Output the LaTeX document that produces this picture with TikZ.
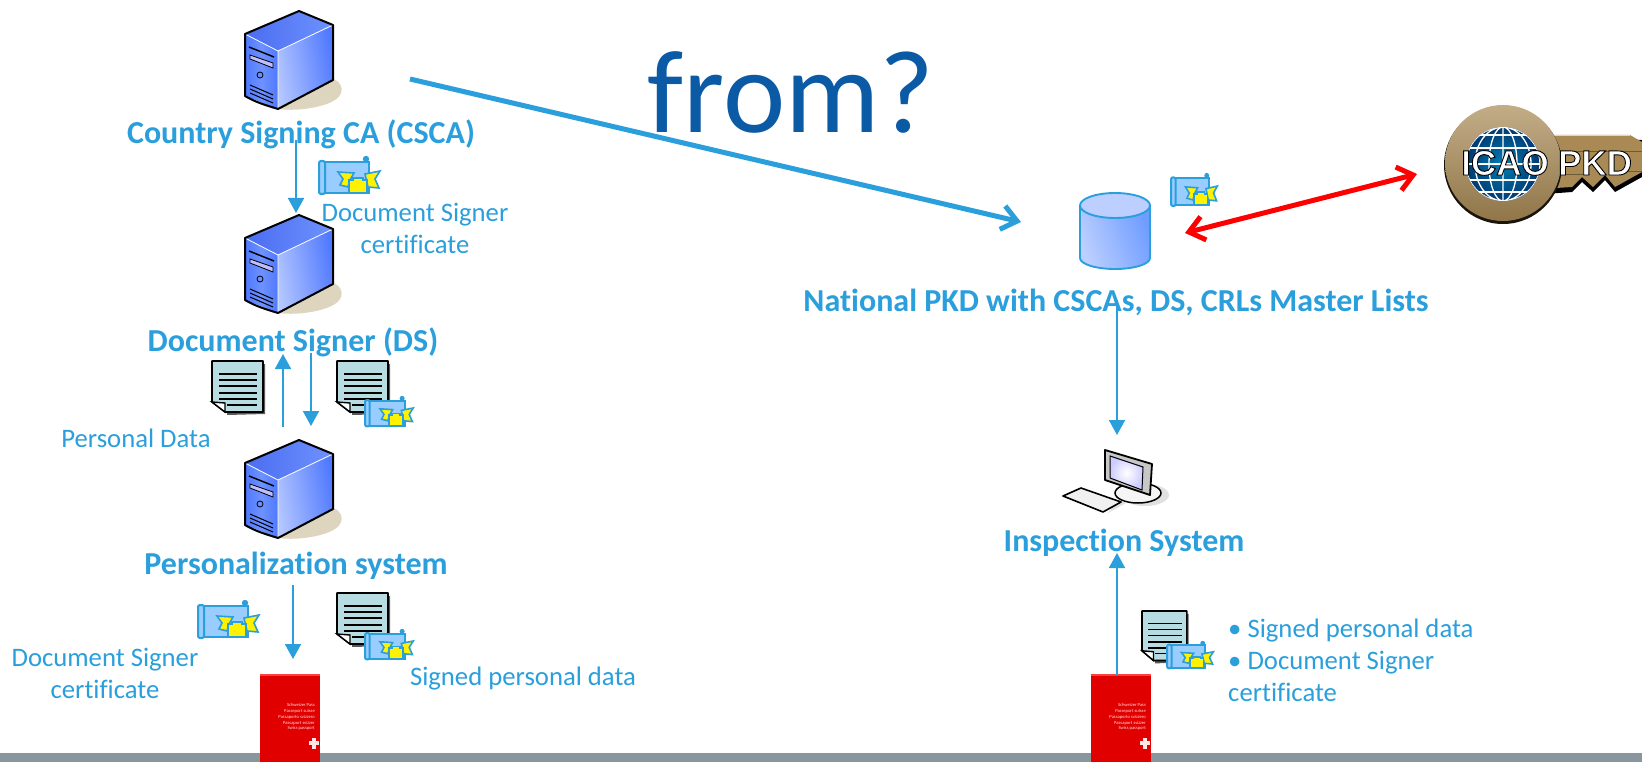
\documentclass[tikz,border=0pt]{standalone}
\usepackage{fontspec}
\setmainfont{Carlito}[Ligatures=NoCommon]
\newfontfamily\keyfont{Liberation Sans}
\usetikzlibrary{arrows.meta,shapes.geometric}
\definecolor{lblue}{HTML}{2A9FDC}
\definecolor{dblue}{HTML}{0B5AA5}
\definecolor{barg}{HTML}{8A969E}
\definecolor{certf}{HTML}{99CCFF}
\definecolor{docf}{HTML}{B7DDE2}
\definecolor{shad}{HTML}{DDD5BE}
\definecolor{keyb}{HTML}{A98A55}
\definecolor{keyd}{HTML}{6E5A35}
\definecolor{pred}{HTML}{E00000}
\definecolor{srvA}{HTML}{B3C6FF}
\definecolor{srvB}{HTML}{4F78FF}
\definecolor{srvC}{HTML}{6E92FF}
\definecolor{srvD}{HTML}{4A6CF0}
\definecolor{cylA}{HTML}{BCCFFF}
\definecolor{cylB}{HTML}{6F9DFF}
\tikzset{
  lbl/.style={text=lblue,inner sep=0pt,anchor=base,font=\fontsize{26.7}{26.7}\selectfont},
  bigl/.style={text=lblue,inner sep=0pt,anchor=base,font=\fontsize{32}{32}\selectfont\bfseries},
  flow/.style={draw=lblue,line width=1.8pt,-{Triangle[length=15pt,width=16pt]}},
  fat/.style={draw=lblue,line width=5pt,-{Straight Barb[length=15pt,width=24pt,line width=5pt]}},
  redl/.style={draw=red,line width=5pt,{Straight Barb[length=15pt,width=24pt,line width=5pt]}-{Straight Barb[length=15pt,width=24pt,line width=5pt]}},
  keytext/.style={text=white,inner sep=0pt,anchor=base,font=\keyfont\fontsize{35}{35}\selectfont\bfseries},
  server/.pic={
    \fill[shad] (310,80) .. controls (340,72) and (345,88) .. (340,95) .. controls (334,106) and (300,112) .. (278,109) -- cycle;
    \shade[left color=srvA,right color=srvB,shading angle=100] (278,51) -- (333,25) -- (333,80) -- (278,109) -- cycle;
    \shade[left color=srvB,right color=srvB,middle color=srvC] (245,34) -- (278,51) -- (278,109) -- (245,96) -- cycle;
    \shade[left color=srvD,right color=srvC] (299,11) -- (245,34) -- (278,51) -- (333,25) -- cycle;
    \draw[white,line width=.8pt] (245,34) -- (278,51) -- (333,25) (278,51) -- (278,109);
    \draw[line width=2pt,line join=round] (299,11) -- (245,34) -- (245,96) .. controls (255,102) and (265,105) .. (278,109) -- (333,80) -- (333,25) -- cycle;
    \draw[line width=1.4pt] (249,47) -- (274,57);
    \draw[line width=.8pt,fill=white!75!blue] (250,55) -- (273,63) -- (273,68) -- (250,59) -- cycle;
    \draw[line width=.8pt] (260,75) circle (3);
    \draw[line width=1pt] (250,85) -- (273,95) (250,89) -- (273,99) (250,93) -- (273,103);
  },
  cert/.pic={
    \draw[lblue,fill=certf,line width=2pt] (3,6) -- (50,6) -- (50,37) -- (3,37) -- cycle;
    \fill[lblue] (47,3) circle (3.2);
    \draw[lblue,fill=certf,line width=2pt,rounded corners=2pt] (0,5) rectangle (6,38);
    \draw[lblue,fill=yellow,line width=1.6pt] (19,16) -- (35,17) -- (31,24) -- (29,31) -- (21,29) -- (24,23) -- cycle;
    \draw[lblue,fill=yellow,line width=1.6pt] (61,15) -- (46,18) -- (49,31) -- (60,32) -- (56,23) -- cycle;
    \draw[lblue,fill=yellow,line width=1.6pt] (30,24) -- (34,24) -- (34,22) -- (44,22) -- (44,24) -- (48,24) -- (48,37) -- (30,37) -- cycle;
  },
  paper/.pic={
    \fill[black!65] (15,5) -- (53,3) -- (53,53) -- (15,54) -- cycle;
    \draw[line width=1.6pt,fill=docf,line join=round] (0,0) -- (51,0) -- (51,51) -- (13,51) -- (0,41) -- cycle;
    \draw[line width=1.4pt,fill=white] (0,41) -- (13,42) -- (13,51) -- cycle;
    \draw[line width=1.4pt] (7,13) -- (45,13) (7,19) -- (45,19) (7,25) -- (45,25) (7,32) -- (45,32) (7,38) -- (45,38) (15,44) -- (45,44);
  },
  booklet/.pic={
    \fill[pred] (0,0) rectangle (60,88);
    \fill[red!75!white] (0,0) rectangle (60,2);
    \fill[white!90!red] (51.5,63.5) rectangle (56,74.5);
    \fill[white!90!red] (48.5,67) rectangle (59,71);
  },
}
\begin{document}
\begin{tikzpicture}[x=1pt,y=-1pt]
\useasboundingbox (0,0) rectangle (1642,762);
\fill[white] (0,0) rectangle (1642,762);
\fill[barg] (0,753) rectangle (1642,762);

% servers
\pic at (0,0) {server};
\pic at (0,204) {server};
\pic at (0,429) {server};

% title word
\node[text=dblue,inner sep=0pt,anchor=base,font=\fontsize{118}{118}\selectfont] (title) at (791,133) {from?};

% labels
\node[bigl] (csca) at (301,144) {Country Signing CA (CSCA)};
\node[bigl] (ds) at (293,351) {Document Signer (DS)};
\node[bigl] (pers) at (296,574) {Personalization system};
\node[bigl] (npkd) at (1116,312) {National PKD with CSCAs, DS, CRLs Master Lists};
\node[bigl] (insp) at (1124,551) {Inspection System};

\node[lbl] (dsc1a) at (415,222) {Document Signer};
\node[lbl] (dsc1b) at (415,254) {certificate};
\node[lbl] (pdata) at (136,447) {Personal Data};
\node[lbl] (dsc2a) at (105,666) {Document Signer};
\node[lbl] (dsc2b) at (105,698) {certificate};
\node[lbl] (spd) at (523,685) {Signed personal data};
\node[lbl,anchor=base west] (b1) at (1228,637) {• Signed personal data};
\node[lbl,anchor=base west] (b2) at (1228,669) {• Document Signer};
\node[lbl,anchor=base west] (b3) at (1228,701) {certificate};

% icons: certificates and documents
\pic at (319,156) {cert};
\pic at (212,361) {paper};
\pic at (337,361) {paper};
\pic[xscale=.79,yscale=.8] at (365,396) {cert};
\pic at (198,600) {cert};
\pic at (337,593) {paper};
\pic[xscale=.79,yscale=.8] at (365,629) {cert};
\pic[xscale=.88,yscale=.97] at (1142,611) {paper};
\pic[xscale=.76,yscale=.72] at (1167,641) {cert};
\pic[xscale=.76,yscale=.87] at (1171,173) {cert};

% database
\shade[left color=cylA,right color=cylB,shading angle=110] (1080,205.5) -- (1080,258) arc[start angle=180,end angle=0,x radius=35,y radius=11] -- (1150,205.5) -- cycle;
\draw[lblue,line width=1.9pt] (1080,205.5) -- (1080,258) arc[start angle=180,end angle=0,x radius=35,y radius=11] -- (1150,205.5);
\draw[lblue,line width=1.9pt,fill=cylA] (1115,205.5) ellipse (35 and 12.5);

% monitor
\fill[black!12] (1145,495) ellipse (24 and 11);
\draw[line width=1.5pt,fill=black!4] (1138,493) ellipse (23 and 10);
\draw[line width=1.8pt,fill=black!22,line join=round] (1105,450) -- (1152,464) -- (1150,495) -- (1105,480) -- cycle;
\shade[inner color=white,outer color=blue!20!white] (1110,456) -- (1143,467) -- (1142,490) -- (1110,478) -- cycle;
\draw[line width=1pt] (1110,456) -- (1143,467) -- (1142,490) -- (1110,478) -- cycle;
\fill[black!12] (1108,513) -- (1126,503) -- (1118,500) -- cycle;
\draw[line width=1.6pt,fill=black!6,line join=round] (1063,496) -- (1081,488) -- (1121,502) -- (1103,512) -- cycle;

% passports
\pic at (260,674) {booklet};
\pic at (1091,674) {booklet};
\node[text=white!85!red,inner sep=0pt,anchor=north east,align=right,font=\fontsize{4.6}{5.9}\selectfont] (pp1) at (315,703) {Schweizer Pass\\Passeport suisse\\Passaporto svizzero\\Passaport svizzer\\Swiss passport};
\node[text=white!85!red,inner sep=0pt,anchor=north east,align=right,font=\fontsize{4.6}{5.9}\selectfont] (pp2) at (1146,703) {Schweizer Pass\\Passeport suisse\\Passaporto svizzero\\Passaport svizzer\\Swiss passport};

% ICAO PKD key
\fill[black] (1545,140) -- (1642,140) -- (1642,177) -- (1615,192) -- (1605,180) -- (1593,192) -- (1582,182) -- (1572,192) -- (1545,194) -- cycle;
\fill[keyb] (1540,135) -- (1630,135) -- (1642,142) -- (1642,172) -- (1615,187) -- (1605,175) -- (1593,187) -- (1582,177) -- (1572,187) -- (1540,189) -- cycle;
\draw[white!65!keyb,line width=1pt] (1553,136) -- (1630,136);
\draw[keyd,line width=1pt] (1560,152) -- (1642,152) (1560,175) -- (1590,175) (1610,172) -- (1642,172);
\fill[black!85!keyb] (1503,165) circle (59);
\shade[top color=keyb!70!white,bottom color=keyb!85!black] (1503,163) circle (58);
\shade[inner color=blue!30!cyan!70!black,outer color=blue!50!cyan!45!black] (1503,164) circle (37);
\begin{scope}
\clip (1503,164) circle (37);
\draw[white,line width=1.3pt] (1503,164) circle (37) (1503,127) -- (1503,201) (1503,164) ellipse (14 and 37) (1503,164) ellipse (28 and 37);
\draw[white,line width=1.3pt] (1466,164) -- (1540,164) (1470,148) -- (1536,148) (1476,135) -- (1530,135) (1470,180) -- (1536,180) (1476,192) -- (1530,192);
\end{scope}
\node[keytext] (icao) at (1505,175) {\special{pdf:code q 2 Tr 0.9 w 0 0 0 RG}ICAO\special{pdf:code Q}};
\node[keytext] (pkd) at (1595,175) {\special{pdf:code q 2 Tr 0.9 w 0 0 0 RG}PKD\special{pdf:code Q}};

% connector ends
\coordinate (a1s) at (296,140);
\coordinate (a1e) at (296,213);
\coordinate (a2s) at (283,427);
\coordinate (a2e) at (283,354);
\coordinate (a3s) at (311,353);
\coordinate (a3e) at (311,426);
\coordinate (a4s) at (293,585);
\coordinate (a4e) at (293,659);
\coordinate (a5s) at (410,79);
\coordinate (a5e) at (1021,222);
\coordinate (a6s) at (1117,300);
\coordinate (a6e) at (1117,435);
\coordinate (a7s) at (1117,675);
\coordinate (a7e) at (1117,553);
\coordinate (a8s) at (1185,233);
\coordinate (a8e) at (1417,174);

\draw[flow] (a1s) -- (a1e);
\draw[flow] (a2s) -- (a2e);
\draw[flow] (a3s) -- (a3e);
\draw[flow] (a4s) -- (a4e);
\draw[flow] (a6s) -- (a6e);
\draw[flow] (a7s) -- (a7e);
\draw[fat] (a5s) -- (a5e);
\draw[redl] (a8s) -- (a8e);
\end{tikzpicture}
\end{document}
